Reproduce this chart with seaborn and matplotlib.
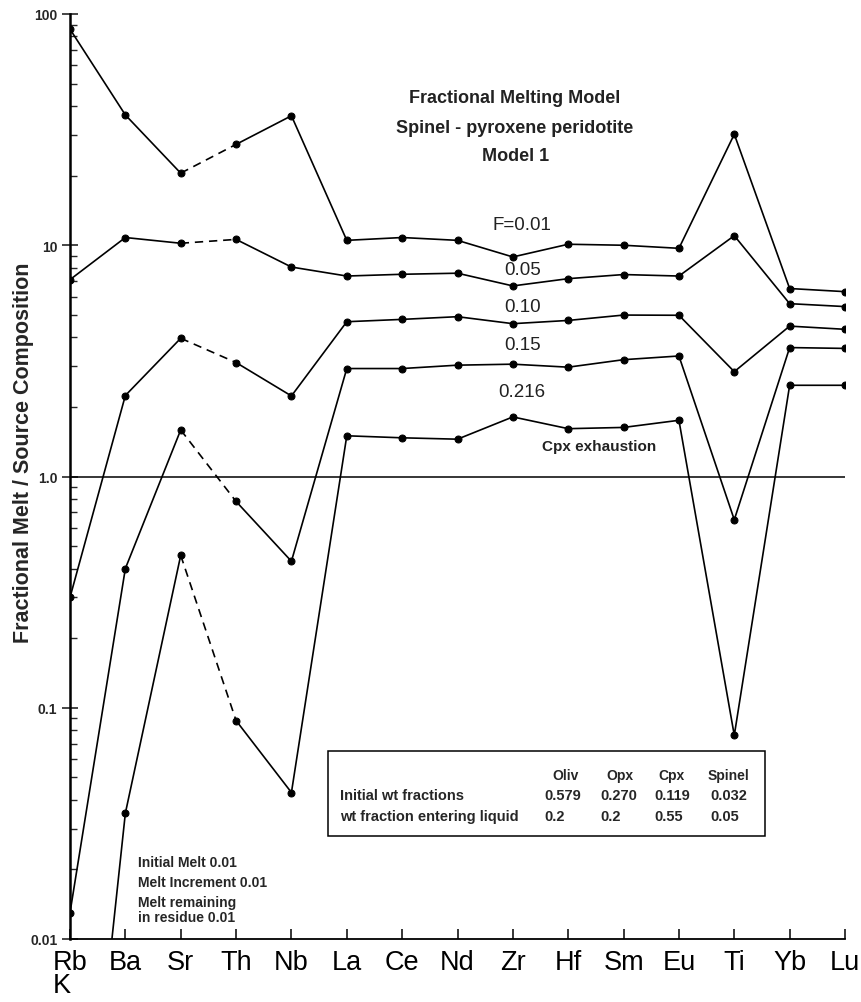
import numpy as np
import pandas as pd
import matplotlib
matplotlib.use("Agg")
import matplotlib.pyplot as plt
from matplotlib.patches import Rectangle
from matplotlib.ticker import FixedLocator, FixedFormatter, LogLocator, NullFormatter
import seaborn as sns

# Elements along the spidergram axis (Rb shares its position with K)
elements = ["Rb", "Ba", "Sr", "Th", "Nb", "La", "Ce", "Nd", "Zr",
            "Hf", "Sm", "Eu", "Ti", "Yb", "Lu"]
tick_labels = ["Rb\nK"] + elements[1:]

# Fractional melt / source composition for each melt fraction F
f_001 = [86, 36.6, 20.5, 27.3, 36.3, 10.5, 10.8, 10.5, 8.9, 10.1, 10.0, 9.7, 30.2, 6.5, 6.3]
f_005 = [7.1, 10.8, 10.2, 10.6, 8.05, 7.36, 7.49, 7.57, 6.67, 7.17, 7.47, 7.36, 11.0, 5.59, 5.43]
f_010 = [0.30, 2.24, 3.96, 3.11, 2.23, 4.67, 4.78, 4.91, 4.58, 4.73, 4.99, 4.98, 2.84, 4.47, 4.33]
f_015 = [0.013, 0.40, 1.59, 0.78, 0.43, 2.93, 2.93, 3.03, 3.06, 2.97, 3.20, 3.32, 0.65, 3.61, 3.58]
f_0216 = [0.0002, 0.035, 0.456, 0.088, 0.043, 1.50, 1.47, 1.45, 1.81, 1.61, 1.63, 1.75, 0.076, 2.48, 2.48]

series_names = ["F=0.01", "0.05", "0.10", "0.15", "0.216"]
series_values = [f_001, f_005, f_010, f_015, f_0216]

# Mineral mode table
minerals = ["Oliv", "Opx", "Cpx", "Spinel"]
initial_fractions = ["0.579", "0.270", "0.119", "0.032"]
entering_liquid = ["0.2", "0.2", "0.55", "0.05"]

model_notes = ["Initial Melt 0.01", "Melt Increment 0.01", "Melt remaining", "in residue 0.01"]

sns.set_theme(style="ticks")
plt.rcParams["font.family"] = ["Liberation Sans", "DejaVu Sans"]

# Long-form table: solid segments Rb..Sr and Th..Lu, dashed link Sr..Th
rows_solid, rows_dash = [], []
for name, vals in zip(series_names, series_values):
    for i, (el, v) in enumerate(zip(elements, vals)):
        seg = "a" if i <= 2 else "b"
        rows_solid.append({"series": name, "seg": name + seg, "pos": i, "value": v})
        if i in (2, 3):
            rows_dash.append({"series": name, "seg": name, "pos": i, "value": v})
solid = pd.DataFrame(rows_solid)
dashed = pd.DataFrame(rows_dash)

fig = plt.figure(figsize=(8.61, 10.03), dpi=100)
ax = fig.add_axes([70 / 861, 63 / 1003, 775 / 861, 925 / 1003])
ax.set_yscale("log")

sns.lineplot(data=solid, x="pos", y="value", units="seg", estimator=None,
             sort=False, color="black", lw=1.2, marker="o", markersize=5,
             markeredgecolor="black", ax=ax, legend=False)
sns.lineplot(data=dashed, x="pos", y="value", units="seg", estimator=None,
             sort=False, color="black", lw=1.2, linestyle=(0, (5, 3.5)),
             ax=ax, legend=False)

ax.axhline(1.0, color="black", lw=1.1, zorder=1)

ax.set_xlim(0, len(elements) - 1)
ax.set_ylim(0.01, 100)

ax.xaxis.set_major_locator(FixedLocator(range(len(elements))))
ax.xaxis.set_major_formatter(FixedFormatter(tick_labels))
ax.tick_params(axis="x", direction="in", length=7, width=1.1, pad=7,
               labelsize=19.5, colors="black")
for lab in ax.get_xticklabels():
    lab.set_multialignment("left")
    lab.set_linespacing(0.85)

ax.yaxis.set_major_locator(FixedLocator([0.01, 0.1, 1, 10, 100]))
ax.yaxis.set_major_formatter(FixedFormatter(["0.01", "0.1", "1.0", "10", "100"]))
ax.yaxis.set_minor_locator(LogLocator(base=10, subs=np.arange(2, 10)))
ax.yaxis.set_minor_formatter(NullFormatter())
ax.tick_params(axis="y", which="major", direction="inout", length=12, width=1.2,
               pad=3, labelsize=10)
ax.tick_params(axis="y", which="minor", direction="in", length=5, width=1.0)
for lab in ax.get_yticklabels():
    lab.set_fontweight("bold")

ax.set_xlabel("")
ax.set_ylabel("Fractional Melt / Source Composition", fontsize=15.5,
              fontweight="bold", va="center")
ax.yaxis.set_label_coords(-0.0606, 0.5265)

for side in ("top", "right"):
    ax.spines[side].set_visible(False)
ax.spines["left"].set_linewidth(1.8)
ax.spines["bottom"].set_linewidth(1.3)
ax.spines["left"].set_color("black")
ax.spines["bottom"].set_color("black")

# Model title
for txt, y in zip(["Fractional Melting Model", "Spinel - pyroxene peridotite", "Model 1"],
                  [43.7, 32.4, 24.5]):
    ax.text(8.04, y, txt, ha="center", va="center", fontsize=13, fontweight="bold",
            color="#222222")

# Melt fraction labels
for txt, y in zip(series_names, [12.3, 7.82, 5.46, 3.73, 2.33]):
    ax.text(8.17, y, txt, ha="center", va="center", fontsize=13.5, color="#222222")
ax.text(8.53, 1.35, "Cpx exhaustion", ha="left", va="center", fontsize=11,
        fontweight="bold", color="#222222")

# Mineral table
ax.add_patch(Rectangle((0.333, 0.111), 0.564, 0.092, transform=ax.transAxes,
                       fill=False, edgecolor="black", lw=1.1))
col_x = [0.6116, 0.6839, 0.7535, 0.8258]
head_x = [0.622, 0.6916, 0.7587, 0.8232]
for hx, m in zip(head_x, minerals):
    ax.text(hx, 0.1773, m, transform=ax.transAxes, ha="left", va="center",
            fontsize=10, fontweight="bold")
ax.text(0.3484, 0.1557, "Initial wt fractions", transform=ax.transAxes,
        ha="left", va="center", fontsize=10.5, fontweight="bold")
ax.text(0.3484, 0.133, "wt fraction entering liquid", transform=ax.transAxes,
        ha="left", va="center", fontsize=10.5, fontweight="bold")
for cx, a, b in zip(col_x, initial_fractions, entering_liquid):
    ax.text(cx, 0.1557, a, transform=ax.transAxes, ha="left", va="center",
            fontsize=10.5, fontweight="bold")
    ax.text(cx, 0.133, b, transform=ax.transAxes, ha="left", va="center",
            fontsize=10.5, fontweight="bold")

# Model parameters
for txt, y in zip(model_notes, [0.0832, 0.0616, 0.040, 0.0238]):
    ax.text(0.0877, y, txt, transform=ax.transAxes, ha="left", va="center",
            fontsize=10, fontweight="bold")

fig.savefig("out.png", dpi=100, facecolor="white")
